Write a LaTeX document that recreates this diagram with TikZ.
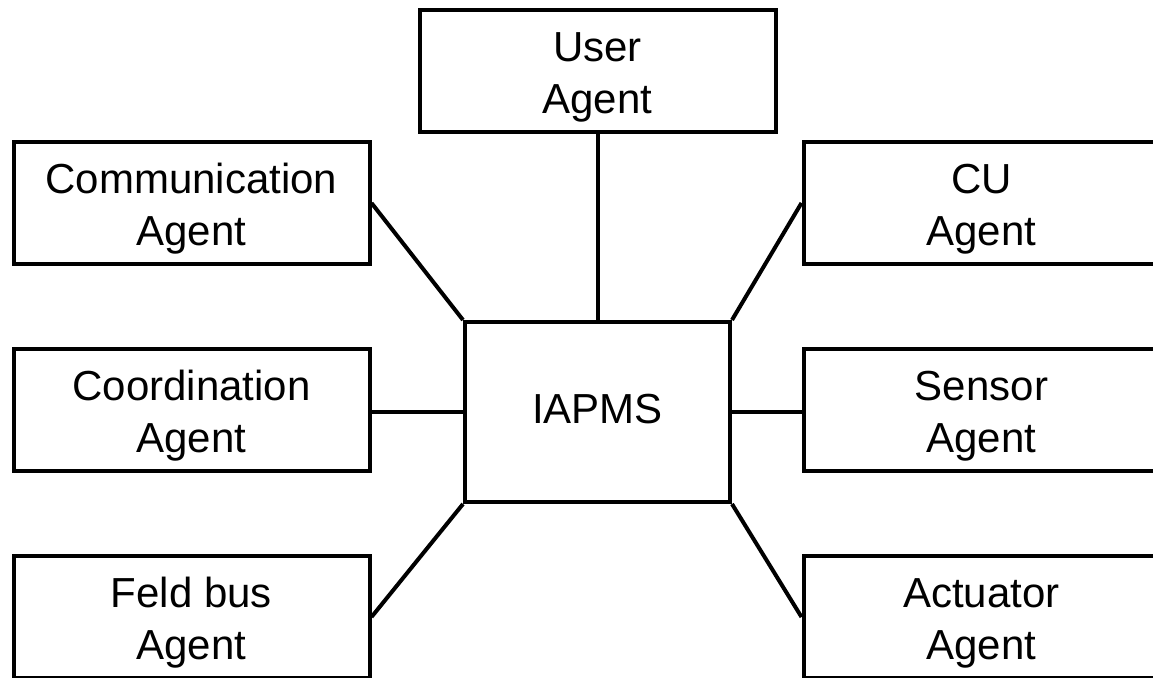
\documentclass[tikz,border=0pt]{standalone}
\usepackage{fontspec}
\setmainfont{Liberation Sans}
\usetikzlibrary{positioning}
\tikzstyle{agent} = [rectangle, draw, line width=2pt, align=center,
    minimum width=178pt, minimum height=61pt, inner sep=0pt,
    text height=47pt, font=\fontsize{21}{26}\selectfont]
\tikzstyle{core} = [agent, minimum width=132.5pt, minimum height=90pt,
    text height=15pt, text depth=3pt]

\begin{document}
\begin{tikzpicture}[x=0.5pt,y=-0.5pt,line width=2pt,line join=miter]
  \useasboundingbox (0,0) rectangle (1153,678);
  \clip (0,0) rectangle (1153,678);

  \node[core]  (iapms) at (597.5,412) {IAPMS};
  \node[agent] (user)  at (597.5,71)  {User\\Agent};
  \node[agent] (comm)  at (191.5,203) {Communication\\Agent};
  \node[agent] (coord) at (191.5,410) {Coordination\\Agent};
  \node[agent] (feld)  at (191.5,617) {Feld bus\\Agent};
  \node[agent] (cu)    at (981.5,203) {CU\\Agent};
  \node[agent] (sens)  at (981.5,410) {Sensor\\Agent};
  \node[agent] (act)   at (981.5,617) {Actuator\\Agent};

  \path (user)       edge (iapms)
        (comm.east)  edge (iapms.north west)
        (coord.east |- iapms.west) edge (iapms.west)
        (feld.east)  edge (iapms.south west)
        (cu.west)    edge (iapms.north east)
        (sens.west |- iapms.east)  edge (iapms.east)
        (act.west)   edge (iapms.south east);
\end{tikzpicture}
\end{document}
